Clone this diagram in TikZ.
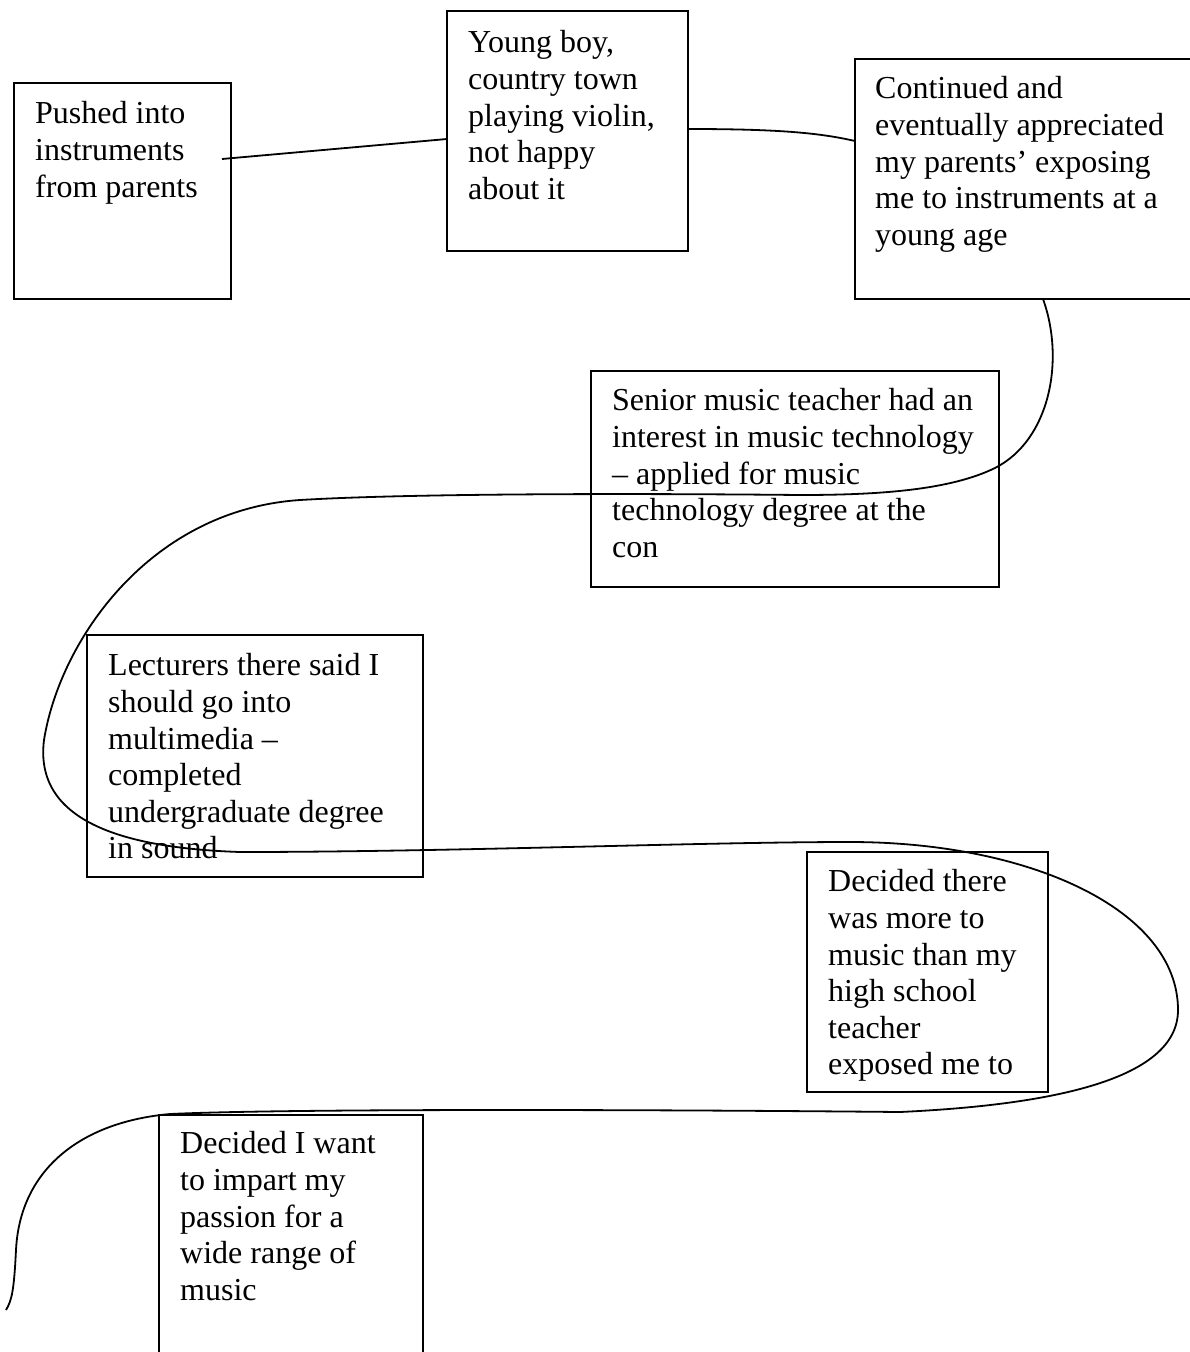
\documentclass[tikz,border=0pt]{standalone}
\usepackage{fontspec}
\setmainfont{Liberation Serif}
\usetikzlibrary{calc}

\begin{document}
\begin{tikzpicture}[
  x=1pt, y=-1pt,
  card/.style={rectangle, draw=black, line width=1.5pt, outer sep=0pt, inner sep=0pt,
               anchor=north west},
  note/.style={anchor=north west, inner sep=0pt, align=left,
               font=\fontsize{32pt}{36.6pt}\selectfont, execute at begin node=\strut},
  link/.style={draw=black, line width=1.8pt},
]
\useasboundingbox (0,0) rectangle (1189,1352);

% ---------------------------------------------------------------- boxes
\node[card, minimum width=217pt, minimum height=216pt] (pushed) at (14,83) {};
\node[card, minimum width=241pt, minimum height=240pt] (violin) at (447,11) {};
\node[card, minimum width=345pt, minimum height=240pt] (continued) at (855,59) {};
\node[card, minimum width=408pt, minimum height=216pt] (senior) at (591,371) {};
\node[card, minimum width=336pt, minimum height=242pt] (lecturers) at (87,635) {};
\node[card, minimum width=241pt, minimum height=240pt] (decided) at (807,852) {};
\node[card, minimum width=264pt, minimum height=250pt] (impart) at (159,1115) {};

% ---------------------------------------------------------------- texts
% (strut top sits 25.6pt above the first baseline)
\node[note] (pushed-t) at ($(pushed.north west)+(21,18.4)$)
     {Pushed into\\instruments\\from parents};
\node[note] (violin-t) at ($(violin.north west)+(21,19.4)$)
     {Young boy,\\country town\\playing violin,\\not happy\\about it};
\node[note] (continued-t) at ($(continued.north west)+(20,17.4)$)
     {Continued and\\eventually appreciated\\my parents’ exposing\\me to instruments at a\\young age};
\node[note] (senior-t) at ($(senior.north west)+(21,17.4)$)
     {Senior music teacher had an\\interest in music technology\\– applied for music\\technology degree at the\\con};
\node[note] (lecturers-t) at ($(lecturers.north west)+(21,18.4)$)
     {Lecturers there said I\\should go into\\multimedia –\\completed\\undergraduate degree\\in sound};
\node[note] (decided-t) at ($(decided.north west)+(21,17.4)$)
     {Decided there\\was more to\\music than my\\high school\\teacher\\exposed me to};
\node[note] (impart-t) at ($(impart.north west)+(21,16.4)$)
     {Decided I want\\to impart my\\passion for a\\wide range of\\music};

% ---------------------------------------------------------------- connectors
\coordinate (start) at ($(pushed.north east)+(-9,76)$);
\coordinate (tail) at (6,1310);

\draw[link] (start) -- ($(violin.west)+(0,8)$);
\draw[link] ($(violin.east)+(0,-2)$) .. controls (780,129) and (820,133)
      .. ($(continued.west)+(0,-38)$);

% the long winding line down the page
\draw[link] ($(continued.south west)+(188,0)$)
      .. controls (1065,360) and (1050,440) .. (995,468)
      .. controls (950,490) and (880,495) .. (800,495)
      .. controls (600,493) and (400,494) .. (300,500)
      .. controls (150,510) and (60,640) .. (44,740)
      .. controls (34,820) and (120,848) .. (240,852)
      .. controls (450,852) and (700,842) .. (850,842)
      .. controls (1030,842) and (1178,910) .. (1178,1010)
      .. controls (1178,1080) and (1050,1105) .. (900,1112)
      .. controls (700,1110) and (300,1108) .. (170,1114)
      .. controls (80,1122) and (20,1170) .. (16,1250)
      .. controls (14,1290) and (12,1300) .. (tail);
\end{tikzpicture}
\end{document}
